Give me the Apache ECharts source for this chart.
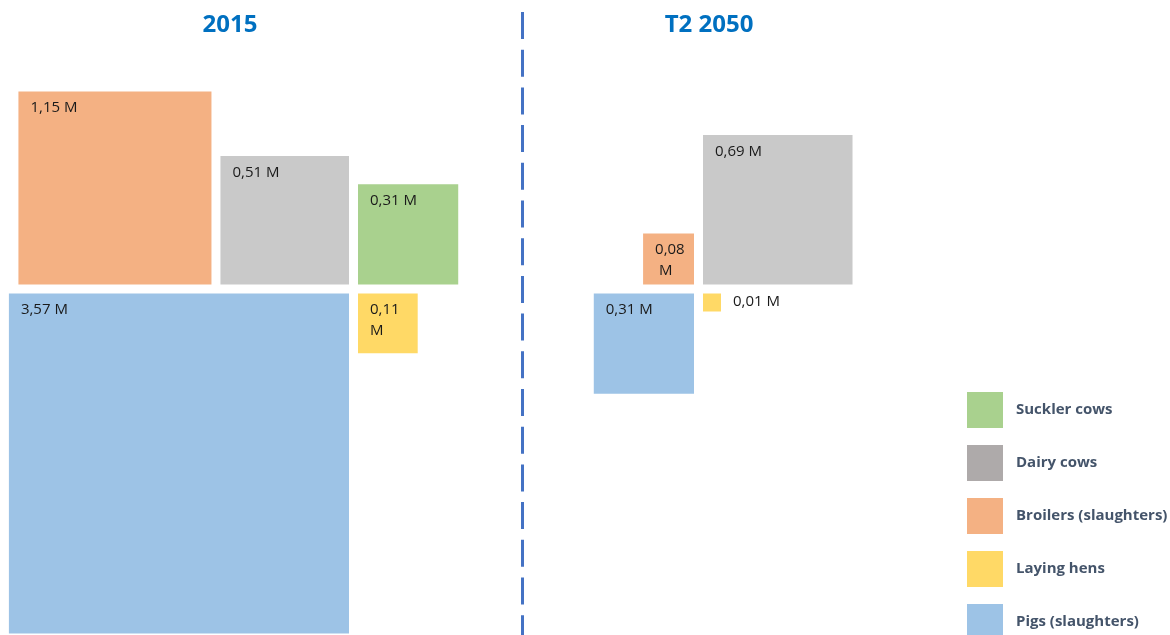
<!DOCTYPE html>
<html>
<head>
<meta charset="utf-8">
<script src="https://cdn.jsdelivr.net/npm/echarts@6/dist/echarts.min.js"></script>
<style>
  html, body { margin: 0; padding: 0; background: #fff; }
  #chart { width: 1170px; height: 635px; }
</style>
</head>
<body>
<div id="chart"></div>
<script>
// head counts in millions; every square has an area proportional to its value
const categories = ['Suckler cows', 'Dairy cows', 'Broilers (slaughters)', 'Laying hens', 'Pigs (slaughters)']
const panels = ['2015', 'T2 2050']
const values2015 = [0.31, 0.51, 1.15, 0.11, 3.57]
const values2050 = [0, 0.69, 0.08, 0.01, 0.31]

const squareColors = ['#A9D18E', '#C9C9C9', '#F4B183', '#FFD966', '#9DC3E6']
const legendColors = ['#A9D18E', '#AEAAAA', '#F4B183', '#FFD966', '#9DC3E6']

// slot of each category around the panel's cross: row, side, rank counted from the centre
const slots2015 = [['top', 'right', 0], ['top', 'left', 0], ['top', 'left', 1], ['bottom', 'right', 0], ['bottom', 'left', 0]]
const slots2050 = [['top', 'right', 1], ['top', 'right', 0], ['top', 'left', 0], ['bottom', 'right', 0], ['bottom', 'left', 0]]

const W = 1170
const H = 635
const K = 180              // px for one unit of sqrt(millions)
const HALF = 4.5 / K       // half gap around the cross
const GAP = 9 / K          // gap between squares on the same side
const crossX = [353.5 / K, 698.5 / K]
const crossY = (H - 289) / K

function layout(values, slots, cx, cy) {
  const out = categories.map(() => null)
  const used = {}
  const order = values.map((v, i) => i).sort((a, b) => slots[a][2] - slots[b][2])
  order.forEach(i => {
    const v = values[i]
    if (!v) return
    const [row, side] = slots[i]
    const key = row + side
    const off = used[key] || 0
    const s = Math.sqrt(v)
    const x0 = side === 'left' ? cx - HALF - off - s : cx + HALF + off
    const y0 = row === 'top' ? cy + HALF : cy - HALF - s
    out[i] = [x0, y0, x0 + s, y0 + s, v]
    used[key] = off + s + GAP
  })
  return out
}

const rects2015 = layout(values2015, slots2015, crossX[0], crossY)
const rects2050 = layout(values2050, slots2050, crossX[1], crossY)

function renderSquare(params, api) {
  const tl = api.coord([api.value(0), api.value(3)])
  const br = api.coord([api.value(2), api.value(1)])
  const w = br[0] - tl[0]
  const h = br[1] - tl[1]
  const text = api.value(4).toFixed(2).replace('.', ',') + ' M'
  const small = w < 30
  return {
    type: 'group',
    children: [
      {
        type: 'rect',
        shape: { x: tl[0], y: tl[1], width: w, height: h },
        style: { fill: squareColors[params.seriesIndex] },
      },
      {
        type: 'text',
        x: small ? br[0] + 12 : tl[0] + 12,
        y: small ? tl[1] - 2 : tl[1] + 6,
        style: {
          text: text,
          fill: '#1a1a1a',
          fontSize: 15,
          fontFamily: 'Open Sans',
          lineHeight: 21,
          width: small ? null : w - 20,
          overflow: small ? 'none' : 'break',
        },
      },
    ],
  }
}

const chart = echarts.init(document.getElementById('chart'))
chart.setOption({
  animation: false,
  grid: { left: 0, top: 0, width: W, height: H },
  xAxis: { type: 'value', min: 0, max: W / K, show: false },
  yAxis: { type: 'value', min: 0, max: H / K, show: false },
  legend: {
    orient: 'vertical',
    left: 967,
    top: 392,
    height: 300,
    padding: 0,
    icon: 'rect',
    itemWidth: 36,
    itemHeight: 36,
    itemGap: 17,
    selectedMode: false,
    data: categories.map((name, i) => ({ name, itemStyle: { color: legendColors[i] } })),
    textStyle: {
      color: '#44546A',
      fontSize: 15,
      fontWeight: 'bold',
      fontFamily: 'Open Sans',
      padding: [0, 0, 0, 8],
    },
  },
  graphic: [
    ...panels.map((t, i) => ({
      type: 'text',
      x: [230, 709][i],
      y: 25,
      style: {
        text: t,
        fill: '#0070C0',
        fontSize: 24,
        fontWeight: 'bold',
        fontFamily: 'Open Sans',
        align: 'center',
        verticalAlign: 'middle',
      },
    })),
    {
      type: 'line',
      shape: { x1: 522.5, y1: 12, x2: 522.5, y2: H },
      style: { stroke: '#4472C4', lineWidth: 3, lineDash: [27, 10.7] },
    },
  ],
  series: categories.map((name, i) => ({
    name,
    type: 'custom',
    renderItem: renderSquare,
    itemStyle: { color: legendColors[i] },
    encode: { x: [0, 2], y: [1, 3] },
    data: [rects2015[i], rects2050[i]].filter(Boolean),
  })),
})

window.addEventListener('resize', () => chart.resize())
</script>
</body>
</html>
